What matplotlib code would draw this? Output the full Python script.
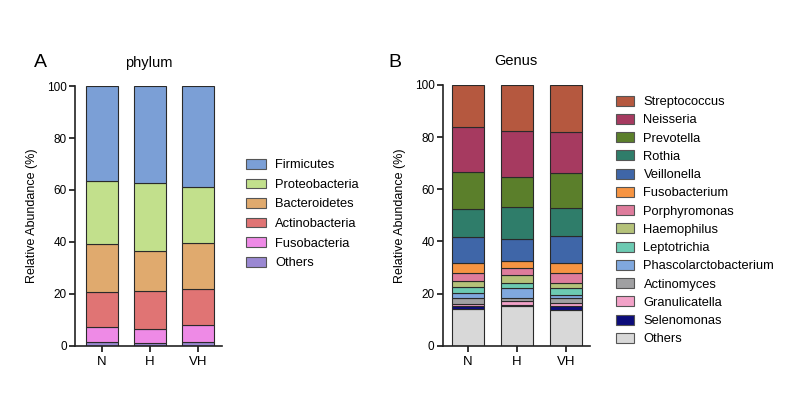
import numpy as np
import matplotlib
matplotlib.use("Agg")
import matplotlib.pyplot as plt
from matplotlib.patches import Patch

plt.rcParams['font.family'] = ['Liberation Sans', 'DejaVu Sans']

groups = ['N', 'H', 'VH']

# phylum, listed top of stack first (legend order)
phylum_names = ['Firmicutes', 'Proteobacteria', 'Bacteroidetes', 'Actinobacteria',
                'Fusobacteria', 'Others']
phylum_colors = ['#7b9fd6', '#c2e08c', '#e0aa6e', '#e07474', '#ee8ae6', '#9a88d2']
phylum_N = [36.7, 24.2, 18.5, 13.4, 5.7, 1.5]
phylum_H = [37.3, 26.3, 15.4, 14.6, 5.2, 1.2]
phylum_VH = [38.7, 21.8, 17.7, 13.7, 6.6, 1.5]

genus_names = ['Streptococcus', 'Neisseria', 'Prevotella', 'Rothia', 'Veillonella',
               'Fusobacterium', 'Porphyromonas', 'Haemophilus', 'Leptotrichia',
               'Phascolarctobacterium', 'Actinomyces', 'Granulicatella',
               'Selenomonas', 'Others']
genus_colors = ['#b5583f', '#a63a60', '#5b7f2b', '#2f7d6a', '#3f66a8', '#f69442',
                '#de7c9c', '#b5c27a', '#6ccab2', '#80a8de', '#a0a0a2', '#f2a2c8',
                '#0c0c7a', '#d8d8d8']
genus_N = [16.3, 16.9, 14.3, 10.9, 9.9, 3.6, 3.1, 2.5, 2.3, 1.9, 2.1, 1.1, 1.1, 14.0]
genus_H = [17.5, 17.9, 11.5, 12.2, 8.2, 2.9, 2.8, 3.0, 1.9, 3.6, 1.5, 1.3, 0.6, 15.1]
genus_VH = [18.1, 15.7, 13.2, 10.9, 10.4, 3.9, 3.8, 1.9, 2.8, 1.0, 1.7, 1.5, 1.3, 13.8]

fig = plt.figure(figsize=(7.98, 3.93), dpi=100)
axA = fig.add_axes([0.094, 0.12, 0.184, 0.661])
axB = fig.add_axes([0.555, 0.12, 0.184, 0.664])


def draw_stack(ax, names, colors, cols, xmin):
    data = np.array(cols).T  # rows = taxa (top first), cols = groups
    x = np.arange(len(groups))
    bottom = np.zeros(len(groups))
    for i in range(len(names) - 1, -1, -1):
        ax.bar(x, data[i], 0.66, bottom=bottom, color=colors[i],
               edgecolor='#2a2a2a', linewidth=0.8)
        bottom += data[i]
    ax.set_xlim(xmin, 2.49)
    ax.set_ylim(0, 100)
    ax.set_yticks([0, 20, 40, 60, 80, 100])
    ax.set_xticks(x)
    ax.set_xticklabels(groups, fontsize=9.5)
    ax.tick_params(axis='y', labelsize=8.5, length=4, width=1.1, pad=2)
    ax.tick_params(axis='x', length=4, width=1.1, pad=3)
    for s in ['top', 'right']:
        ax.spines[s].set_visible(False)
    for s in ['left', 'bottom']:
        ax.spines[s].set_linewidth(1.2)
        ax.spines[s].set_color('#222222')
    ax.set_ylabel('Relative Abundance (%)', fontsize=9, labelpad=6)


draw_stack(axA, phylum_names, phylum_colors, [phylum_N, phylum_H, phylum_VH], -0.55)
draw_stack(axB, genus_names, genus_colors, [genus_N, genus_H, genus_VH], -0.51)

axA.set_title('phylum', fontsize=10.5, pad=14)
axB.set_title('Genus', fontsize=10.5, pad=14)
fig.text(0.042, 0.83, 'A', fontsize=14)
fig.text(0.487, 0.83, 'B', fontsize=14)

hA = [Patch(facecolor=c, edgecolor='#555555', linewidth=0.8) for c in phylum_colors]
fig.legend(hA, phylum_names, loc='upper left', bbox_to_anchor=(0.294, 0.625),
           frameon=False, fontsize=9.3, handlelength=1.5, handleheight=0.8,
           labelspacing=0.55, handletextpad=0.75)

hB = [Patch(facecolor=c, edgecolor='#555555', linewidth=0.8) for c in genus_colors]
fig.legend(hB, genus_names, loc='upper left', bbox_to_anchor=(0.757, 0.786),
           frameon=False, fontsize=9.3, handlelength=1.4, handleheight=0.8,
           labelspacing=0.45, handletextpad=0.75)

fig.savefig('out.png', dpi=100, facecolor='white')
